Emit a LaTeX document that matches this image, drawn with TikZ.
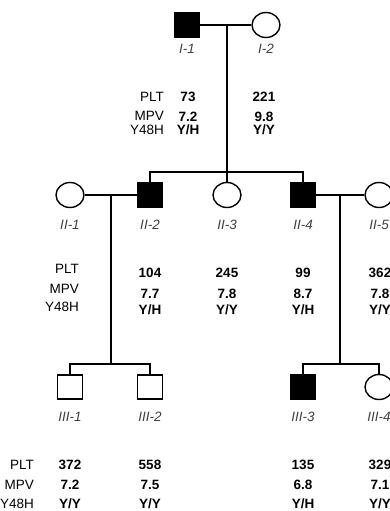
\documentclass[tikz,border=0pt]{standalone}
\usepackage{fontspec}
\setmainfont{Liberation Sans}
\usetikzlibrary{positioning,shapes.geometric}

\begin{document}
\begin{tikzpicture}[x=1pt, y=-1pt,
  male/.style={draw, line width=1.4pt, minimum width=25pt, minimum height=24pt, inner sep=0pt, fill=white},
  female/.style={draw, ellipse, line width=1.4pt, minimum width=28pt, minimum height=25pt, inner sep=0pt, fill=white},
  affected/.style={fill=black},
  link/.style={line width=2pt},
  tag/.style={inner sep=0pt, font=\fontsize{13.5}{15}\selectfont\itshape, text=black!75},
  field/.style={anchor=east, inner sep=0pt, text height=9.5pt, text depth=0pt, font=\fontsize{13.5}{15}\selectfont},
  val/.style={inner sep=0pt, text height=9.5pt, text depth=0pt, font=\fontsize{13.5}{15}\selectfont\bfseries}
]
  \useasboundingbox (0,0) rectangle (390,511);
  \clip (0,0) rectangle (390,511);

  % generation I
  \node[male, affected] (I1) at (187,25) {};
  \node[female] (I2) at (266,25) {};
  \node[tag, below=6pt of I1] (tI1) {I-1};
  \node[tag, below=6pt of I2] (tI2) {I-2};

  % generation II
  \node[female] (II1) at (70,195) {};
  \node[male, affected] (II2) at (150,195) {};
  \node[female] (II3) at (227,195) {};
  \node[male, affected] (II4) at (303,195) {};
  \node[female] (II5) at (379,195) {};
  \node[tag, below=12pt of II1] (tII1) {II-1};
  \node[tag, below=12pt of II2] (tII2) {II-2};
  \node[tag, below=12pt of II3] (tII3) {II-3};
  \node[tag, below=12pt of II4] (tII4) {II-4};
  \node[tag, below=12pt of II5] (tII5) {II-5};

  % generation III
  \node[male] (III1) at (70,387) {};
  \node[male] (III2) at (150,387) {};
  \node[male, affected] (III3) at (303,387) {};
  \node[female] (III4) at (379,387) {};
  \node[tag, below=12pt of III1] (tIII1) {III-1};
  \node[tag, below=12pt of III2] (tIII2) {III-2};
  \node[tag, below=12pt of III3] (tIII3) {III-3};
  \node[tag, below=12pt of III4] (tIII4) {III-4};

  % lines of descent
  \coordinate (m1) at (227,25);
  \coordinate (s2) at (227,172);
  \coordinate (m2) at (111,195);
  \coordinate (s3a) at (111,364);
  \coordinate (m3) at (340,195);
  \coordinate (s3b) at (340,364);

  \draw[link] (I1) -- (I2);
  \draw[link] (m1) -- (s2);
  \draw[link] (II3) -- (s2);
  \draw[link] (II2.north) |- (s2);
  \draw[link] (II4.north) |- (s2);
  \draw[link] (II1) -- (II2);
  \draw[link] (II4) -- (II5);
  \draw[link] (m2) -- (s3a);
  \draw[link] (III1.north) |- (s3a);
  \draw[link] (III2.north) |- (s3a);
  \draw[link] (m3) -- (s3b);
  \draw[link] (III3.north) |- (s3b);
  \draw[link] (III4.north) |- (s3b);

  % blood values, generation I
  \node[field] (fI-plt) at (164,97) {PLT};
  \node[field] (fI-mpv) at (164,116) {MPV};
  \node[field] (fI-gen) at (164,130) {Y48H};
  \node[val] (vI1-plt) at (188,97) {73};
  \node[val] (vI1-mpv) at (188,117) {7.2};
  \node[val] (vI1-gen) at (188,130) {Y/H};
  \node[val] (vI2-plt) at (264,97) {221};
  \node[val] (vI2-mpv) at (264,117) {9.8};
  \node[val] (vI2-gen) at (264,130) {Y/Y};

  % blood values, generation II
  \node[field] (fII-plt) at (79,269) {PLT};
  \node[field] (fII-mpv) at (79,289) {MPV};
  \node[field] (fII-gen) at (79,307) {Y48H};
  \node[val] (vII2-plt) at (150,273) {104};
  \node[val] (vII2-mpv) at (150,294) {7.7};
  \node[val] (vII2-gen) at (150,310) {Y/H};
  \node[val] (vII3-plt) at (227,273) {245};
  \node[val] (vII3-mpv) at (227,294) {7.8};
  \node[val] (vII3-gen) at (227,310) {Y/Y};
  \node[val] (vII4-plt) at (303,273) {99};
  \node[val] (vII4-mpv) at (303,294) {8.7};
  \node[val] (vII4-gen) at (303,310) {Y/H};
  \node[val] (vII5-plt) at (380,273) {362};
  \node[val] (vII5-mpv) at (380,294) {7.8};
  \node[val] (vII5-gen) at (380,310) {Y/Y};

  % blood values, generation III
  \node[field] (fIII-plt) at (34,465) {PLT};
  \node[field] (fIII-mpv) at (34,485) {MPV};
  \node[field] (fIII-gen) at (34,504) {Y48H};
  \node[val] (vIII1-plt) at (70,465) {372};
  \node[val] (vIII1-mpv) at (70,485) {7.2};
  \node[val] (vIII1-gen) at (70,504) {Y/Y};
  \node[val] (vIII2-plt) at (150,465) {558};
  \node[val] (vIII2-mpv) at (150,485) {7.5};
  \node[val] (vIII2-gen) at (150,504) {Y/Y};
  \node[val] (vIII3-plt) at (303,465) {135};
  \node[val] (vIII3-mpv) at (303,485) {6.8};
  \node[val] (vIII3-gen) at (303,504) {Y/H};
  \node[val] (vIII4-plt) at (380,465) {329};
  \node[val] (vIII4-mpv) at (380,485) {7.1};
  \node[val] (vIII4-gen) at (380,504) {Y/Y};
\end{tikzpicture}
\end{document}
